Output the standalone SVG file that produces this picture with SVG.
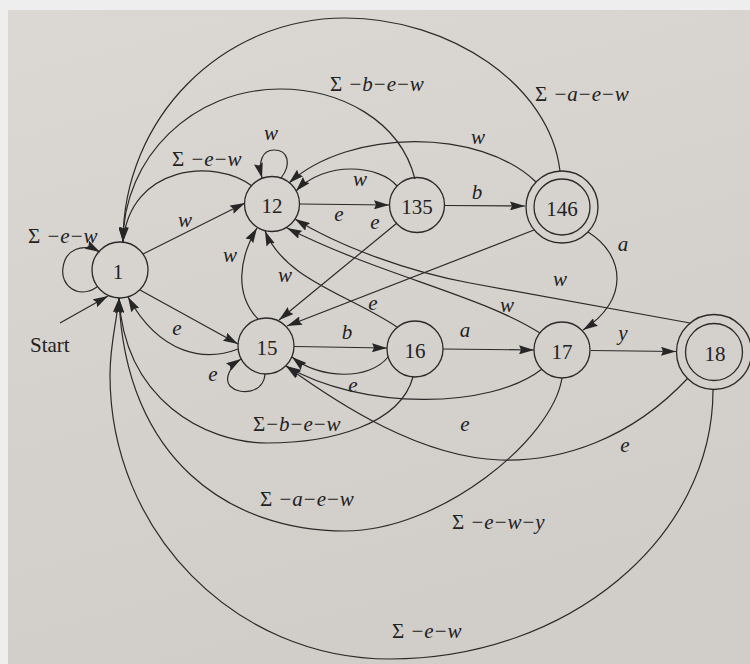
<svg xmlns="http://www.w3.org/2000/svg" width="750" height="664" viewBox="0 0 750 664">
<defs>
<linearGradient id="paper" x1="0" y1="0" x2="0.3" y2="1">
<stop offset="0" stop-color="#dbd7d2"/>
<stop offset="1" stop-color="#d1cdc8"/>
</linearGradient>
<marker id="arr" viewBox="0 0 15 9" refX="15" refY="4.5" markerWidth="15" markerHeight="9" markerUnits="userSpaceOnUse" orient="auto">
<path d="M0,0 L15,4.5 L0,9 L2,4.5 z" fill="#262626"/>
</marker>
<style>
.node circle{fill:none;stroke:#2a2a2a;stroke-width:1.3}
.node text{font-family:"Liberation Serif","DejaVu Serif",serif;font-size:21px;fill:#222;text-anchor:middle}
#edges path{fill:none;stroke:#2a2a2a;stroke-width:1.2;marker-end:url(#arr)}
.l{font-family:"Liberation Serif","DejaVu Serif",serif;font-size:21px;font-style:italic;fill:#222;text-anchor:middle}
.s{font-family:"Liberation Serif","DejaVu Serif",serif;font-size:21px;font-style:italic;fill:#222;letter-spacing:1px}
.u{font-style:normal}
.start{font-family:"Liberation Serif","DejaVu Serif",serif;font-size:21px;fill:#222}
</style>
</defs>
<rect x="0" y="0" width="750" height="664" fill="#eeeeee"/>
<rect x="8" y="10" width="742" height="654" fill="url(#paper)"/>

<g id="edges">
<path id="e_start" d="M60,323 L108,296"/>
<path id="e1_1" d="M97,287 C78,300 60,285 63,268 C65,250 82,242 100,252"/>
<path id="e1_12" d="M143,254 L245,203"/>
<path id="e1_15" d="M140,290 L238,344"/>
<path id="e15_1" d="M238,349 C205,362 160,355 128,297"/>
<path id="e12_1" d="M252,186 C215,158 130,165 123,242"/>
<path id="e135_1" d="M415,179 C400,120 340,89 280,89 C193,89 123,157 123,242"/>
<path id="e146_1" d="M560,171 C550,85 450,18 345,18 C222,18 123,118 123,242"/>
<path id="e12_12" d="M281,178 C292,164 288,150 274,150 C262,150 258,162 262,178"/>
<path id="e12_135" d="M300,204 L389,205"/>
<path id="e135_12" d="M397,186 C380,165 325,160 296,191"/>
<path id="e146_12" d="M536,182 C480,128 350,128 289,183"/>
<path id="e135_146" d="M444,205.5 L525,206"/>
<path id="e135_15" d="M397,223 L279,320"/>
<path id="e146_15" d="M534,230 L287,326"/>
<path id="e146_17" d="M588,232 C625,255 630,300 583,330"/>
<path id="e18_12" d="M690,323 L470,283 C410,272 340,247 295,219"/>
<path id="e17_12" d="M540,333 C480,295 380,275 287,228"/>
<path id="e15_12" d="M258,319 C235,295 238,260 257,228"/>
<path id="e16_12" d="M397,327 C350,295 285,280 265,231"/>
<path id="e15_16" d="M294,346.5 L387,348"/>
<path id="e16_17" d="M443,349 L534,350"/>
<path id="e16_15" d="M388,357 C370,380 320,380 292,357"/>
<path id="e17_15" d="M542,369 C490,410 360,410 286,366"/>
<path id="e18_15" d="M688,378 C630,440 560,462 500,460 C420,457 340,405 286,366"/>
<path id="e15_15" d="M265,374 C264,393 240,396 230,386 C224,379 230,366 241,359"/>
<path id="e17_18" d="M591,350.5 L676,351.5"/>
<path id="e18_1" d="M713,390 C713,538 568,659 390,659 C235,659 110,532 110,375 C110,345 116,325 119,298"/>
<path id="e17_1" d="M562,378 C552,440 440,531 345,531 C230,531 125,460 119,298"/>
<path id="e16_1" d="M413,377 C400,425 330,443 267,443 C205,443 125,400 119,298"/>
</g>

<g id="labels">
<text class="start" x="30" y="352">Start</text>
<text class="s" x="28" y="243"><tspan class="u">Σ −</tspan>e<tspan class="u">−</tspan>w</text>
<text class="s" x="172" y="166"><tspan class="u">Σ −</tspan>e<tspan class="u">−</tspan>w</text>
<text class="s" x="330" y="91"><tspan class="u">Σ −</tspan>b<tspan class="u">−</tspan>e<tspan class="u">−</tspan>w</text>
<text class="s" x="535" y="101"><tspan class="u">Σ −</tspan>a<tspan class="u">−</tspan>e<tspan class="u">−</tspan>w</text>
<text class="s" x="253" y="431"><tspan class="u">Σ−</tspan>b<tspan class="u">−</tspan>e<tspan class="u">−</tspan>w</text>
<text class="s" x="260" y="506"><tspan class="u">Σ −</tspan>a<tspan class="u">−</tspan>e<tspan class="u">−</tspan>w</text>
<text class="s" x="452" y="529"><tspan class="u">Σ −</tspan>e<tspan class="u">−</tspan>w<tspan class="u">−</tspan>y</text>
<text class="s" x="392" y="638"><tspan class="u">Σ −</tspan>e<tspan class="u">−</tspan>w</text>
<text class="l" x="271" y="140">w</text>
<text class="l" x="185" y="227">w</text>
<text class="l" x="360" y="186">w</text>
<text class="l" x="478" y="144">w</text>
<text class="l" x="339" y="221">e</text>
<text class="l" x="375" y="229">e</text>
<text class="l" x="477" y="199">b</text>
<text class="l" x="623" y="251">a</text>
<text class="l" x="560" y="286">w</text>
<text class="l" x="507" y="312">w</text>
<text class="l" x="230" y="262">w</text>
<text class="l" x="285" y="282">w</text>
<text class="l" x="373" y="310">e</text>
<text class="l" x="177" y="335">e</text>
<text class="l" x="347" y="339">b</text>
<text class="l" x="465" y="337">a</text>
<text class="l" x="623" y="340">y</text>
<text class="l" x="213" y="381">e</text>
<text class="l" x="353" y="392">e</text>
<text class="l" x="465" y="431">e</text>
<text class="l" x="625" y="452">e</text>
</g>

<g id="n1" class="node"><circle cx="120" cy="270" r="28"/><text x="118" y="279">1</text></g>
<g id="n12" class="node"><circle cx="272" cy="204" r="27.5"/><text x="272" y="213">12</text></g>
<g id="n135" class="node"><circle cx="417" cy="205" r="27.5"/><text x="417" y="214">135</text></g>
<g id="n146" class="node"><circle cx="562" cy="207" r="36"/><circle cx="562" cy="207" r="28"/><text x="562" y="216">146</text></g>
<g id="n15" class="node"><circle cx="266" cy="346" r="28"/><text x="267" y="355">15</text></g>
<g id="n16" class="node"><circle cx="415" cy="349" r="28"/><text x="415" y="358">16</text></g>
<g id="n17" class="node"><circle cx="562" cy="350" r="28"/><text x="562" y="359">17</text></g>
<g id="n18" class="node"><circle cx="714" cy="352" r="37.5"/><circle cx="714" cy="352" r="28.5"/><text x="715" y="361">18</text></g>
</svg>
